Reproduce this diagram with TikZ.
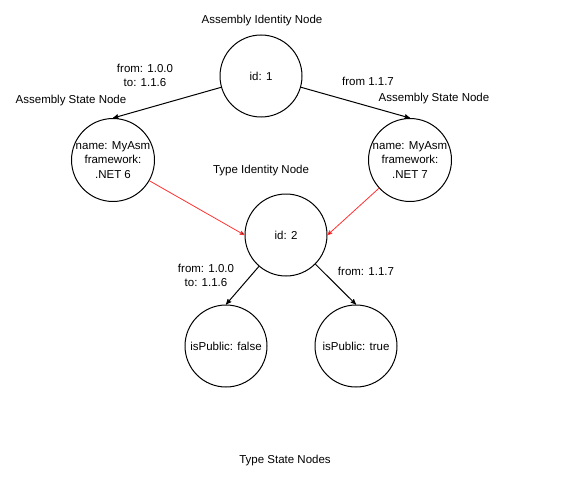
\documentclass[tikz,border=0pt]{standalone}
\usepackage{fontspec}
\setmainfont{Liberation Sans}
\usepackage{tikz}
\definecolor{linkred}{RGB}{255,51,51}
\tikzstyle{state}=[circle,line width=1pt,draw=black,fill=white,minimum size=82pt,inner sep=0pt,align=center,font=\fontsize{11.5}{14.5}\selectfont]
\tikzstyle{nodetitle}=[inner sep=0pt,align=center,font=\fontsize{11.5}{14}\selectfont]
\tikzstyle{edgelabel}=[inner sep=0pt,align=center,font=\fontsize{11.5}{14}\selectfont]
\usetikzlibrary{arrows,positioning}

\begin{document}
\begin{tikzpicture}[x=1pt,y=-1pt, >=stealth', line width=1pt]
            \useasboundingbox (0,0) rectangle (561,481);

            % ASSEMBLY PART

            \node[state] (aid) at (261,76) {id: 1};
            \node[state] (asl) at (113,160) {name: MyAsm\\framework:\\.NET 6};
            \node[state] (asr) at (410,160) {name: MyAsm\\framework:\\.NET 7};

            \node[nodetitle] (taid) at (262,21) {Assembly Identity Node};
            \node[nodetitle] (tasl) at (71,101) {Assembly State Node};
            \node[nodetitle] (tasr) at (434,99) {Assembly State Node};

            \path[->] (aid) edge node {} (asl.north);
            \path[->] (aid) edge node {} (asr.north);

            \node[edgelabel] (lasl) at (145,75) {from: 1.0.0\\to: 1.1.6};
            \node[edgelabel] (lasr) at (368,81) {from 1.1.7};

            % TYPE PART

            \node[state] (tid) at (286,235) {id: 2};
            \node[state] (tsf) at (226,346) {isPublic: false};
            \node[state] (tst) at (356,346) {isPublic: true};

            \node[nodetitle] (ttid) at (261,171) {Type Identity Node};
            \node[nodetitle] (ttsn) at (285,461) {Type State Nodes};

            \path[->] (tid) edge node {} (tsf.north);
            \path[->] (tid) edge node {} (tst.north);

            \node[edgelabel] (ltsf) at (206,275) {from: 1.0.0\\to: 1.1.6};
            \node[edgelabel] (ltst) at (366,271) {from: 1.1.7};

            % Connections of Assemblies and Types

            \path[->,draw=linkred,line width=0.8pt] (asl) edge node {} (tid.west);
            \path[->,draw=linkred,line width=0.8pt] (asr) edge node {} (tid.east);

        \end{tikzpicture}
\end{document}
